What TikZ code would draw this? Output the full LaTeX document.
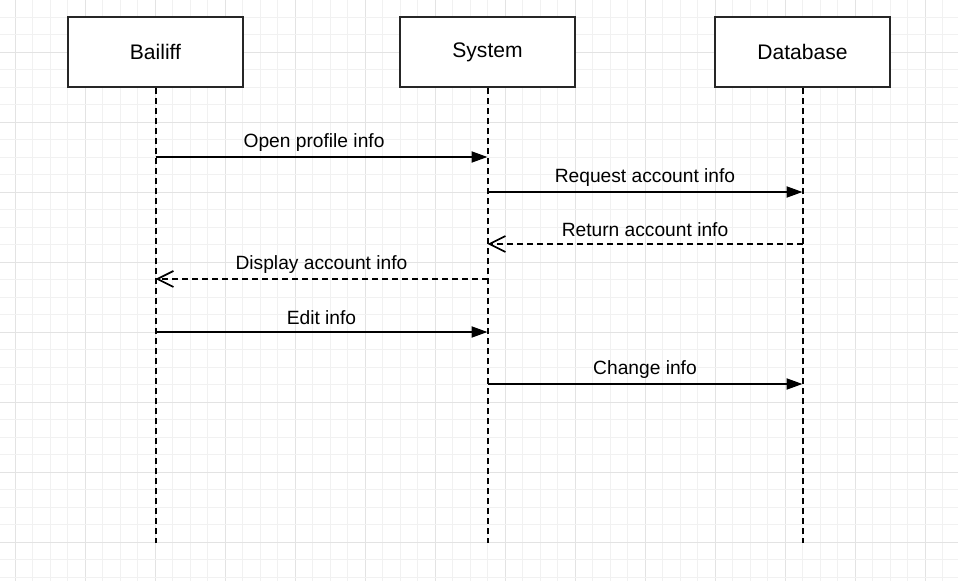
\documentclass[tikz,border=0pt]{standalone}
\usepackage{fontspec}
\setmainfont{Liberation Sans}
\usetikzlibrary{arrows.meta,positioning}

\begin{document}
\begin{tikzpicture}[x=0.75pt,y=-0.75pt,
    font=\fontsize{14.4}{17}\selectfont,
    box/.style={draw=black!85, fill=white, line width=1.5pt, minimum width=131.25pt, minimum height=52.5pt, font=\fontsize{15.8}{19}\selectfont},
    lifeline/.style={draw=black, line width=1.5pt, dash pattern=on 4.5pt off 3pt},
    msg/.style={draw=black, line width=1.5pt, -{Triangle[length=12pt,width=8.25pt]}},
    ret/.style={draw=black, line width=1.5pt, dash pattern=on 4.5pt off 3pt, -{Straight Barb[length=12pt,width=12pt,line width=1.3pt]}},
    lbl/.style={midway, yshift=11pt}]
    % Hintergrund mit Raster
    \useasboundingbox (0,0) rectangle (958,581);
    \fill[white] (0,0) rectangle (958,581);
    \foreach \j in {-8,...,46} {
        \pgfmathsetmacro\gx{155+17.5*\j}
        \pgfmathtruncatemacro\major{mod(\j,4)==0}
        \ifnum\major=1
            \draw[gray!22, line width=0.75pt] (\gx,0) -- (\gx,581);
        \else
            \draw[gray!11, line width=0.75pt] (\gx,0) -- (\gx,581);
        \fi
    }
    \foreach \j in {-31,...,2} {
        \pgfmathsetmacro\gy{542.3+17.5*\j}
        \pgfmathtruncatemacro\major{mod(\j,4)==0}
        \ifnum\major=1
            \draw[gray!22, line width=0.75pt] (0,\gy) -- (958,\gy);
        \else
            \draw[gray!11, line width=0.75pt] (0,\gy) -- (958,\gy);
        \fi
    }

    % Teilnehmer
    \node[box] (bailiff) at (155.5,52) {Bailiff};
    \node[box] (system) at (487.5,52) {System};
    \node[box] (database) at (802.5,52) {Database};

    % Lebenslinien
    \coordinate (bailiffend) at (155.5,543);
    \coordinate (systemend) at (487.5,543);
    \coordinate (databaseend) at (802.5,543);
    \draw[lifeline] (bailiff.south) -- (bailiffend);
    \draw[lifeline] (system.south) -- (systemend);
    \draw[lifeline] (database.south) -- (databaseend);

    % Nachrichten
    \coordinate (b1) at (155.5,157);
    \coordinate (s1) at (487.5,157);
    \coordinate (s2) at (487.5,192);
    \coordinate (d2) at (802.5,192);
    \coordinate (d3) at (802.5,244);
    \coordinate (s3) at (487.5,244);
    \coordinate (s4) at (487.5,279);
    \coordinate (b4) at (155.5,279);
    \coordinate (b5) at (155.5,332);
    \coordinate (s5) at (487.5,332);
    \coordinate (s6) at (487.5,384);
    \coordinate (d6) at (802.5,384);

    \draw[msg] (b1) -- (s1) node[lbl, xshift=-5.6pt] {Open profile info};
    \draw[msg] (s2) -- (d2) node[lbl] {Request account info};
    \draw[ret] (d3) -- (s3) node[lbl] {Return account info};
    \draw[ret] (s4) -- (b4) node[lbl] {Display account info};
    \draw[msg] (b5) -- (s5) node[lbl] {Edit info};
    \draw[msg] (s6) -- (d6) node[lbl] {Change info};
\end{tikzpicture}
\end{document}
